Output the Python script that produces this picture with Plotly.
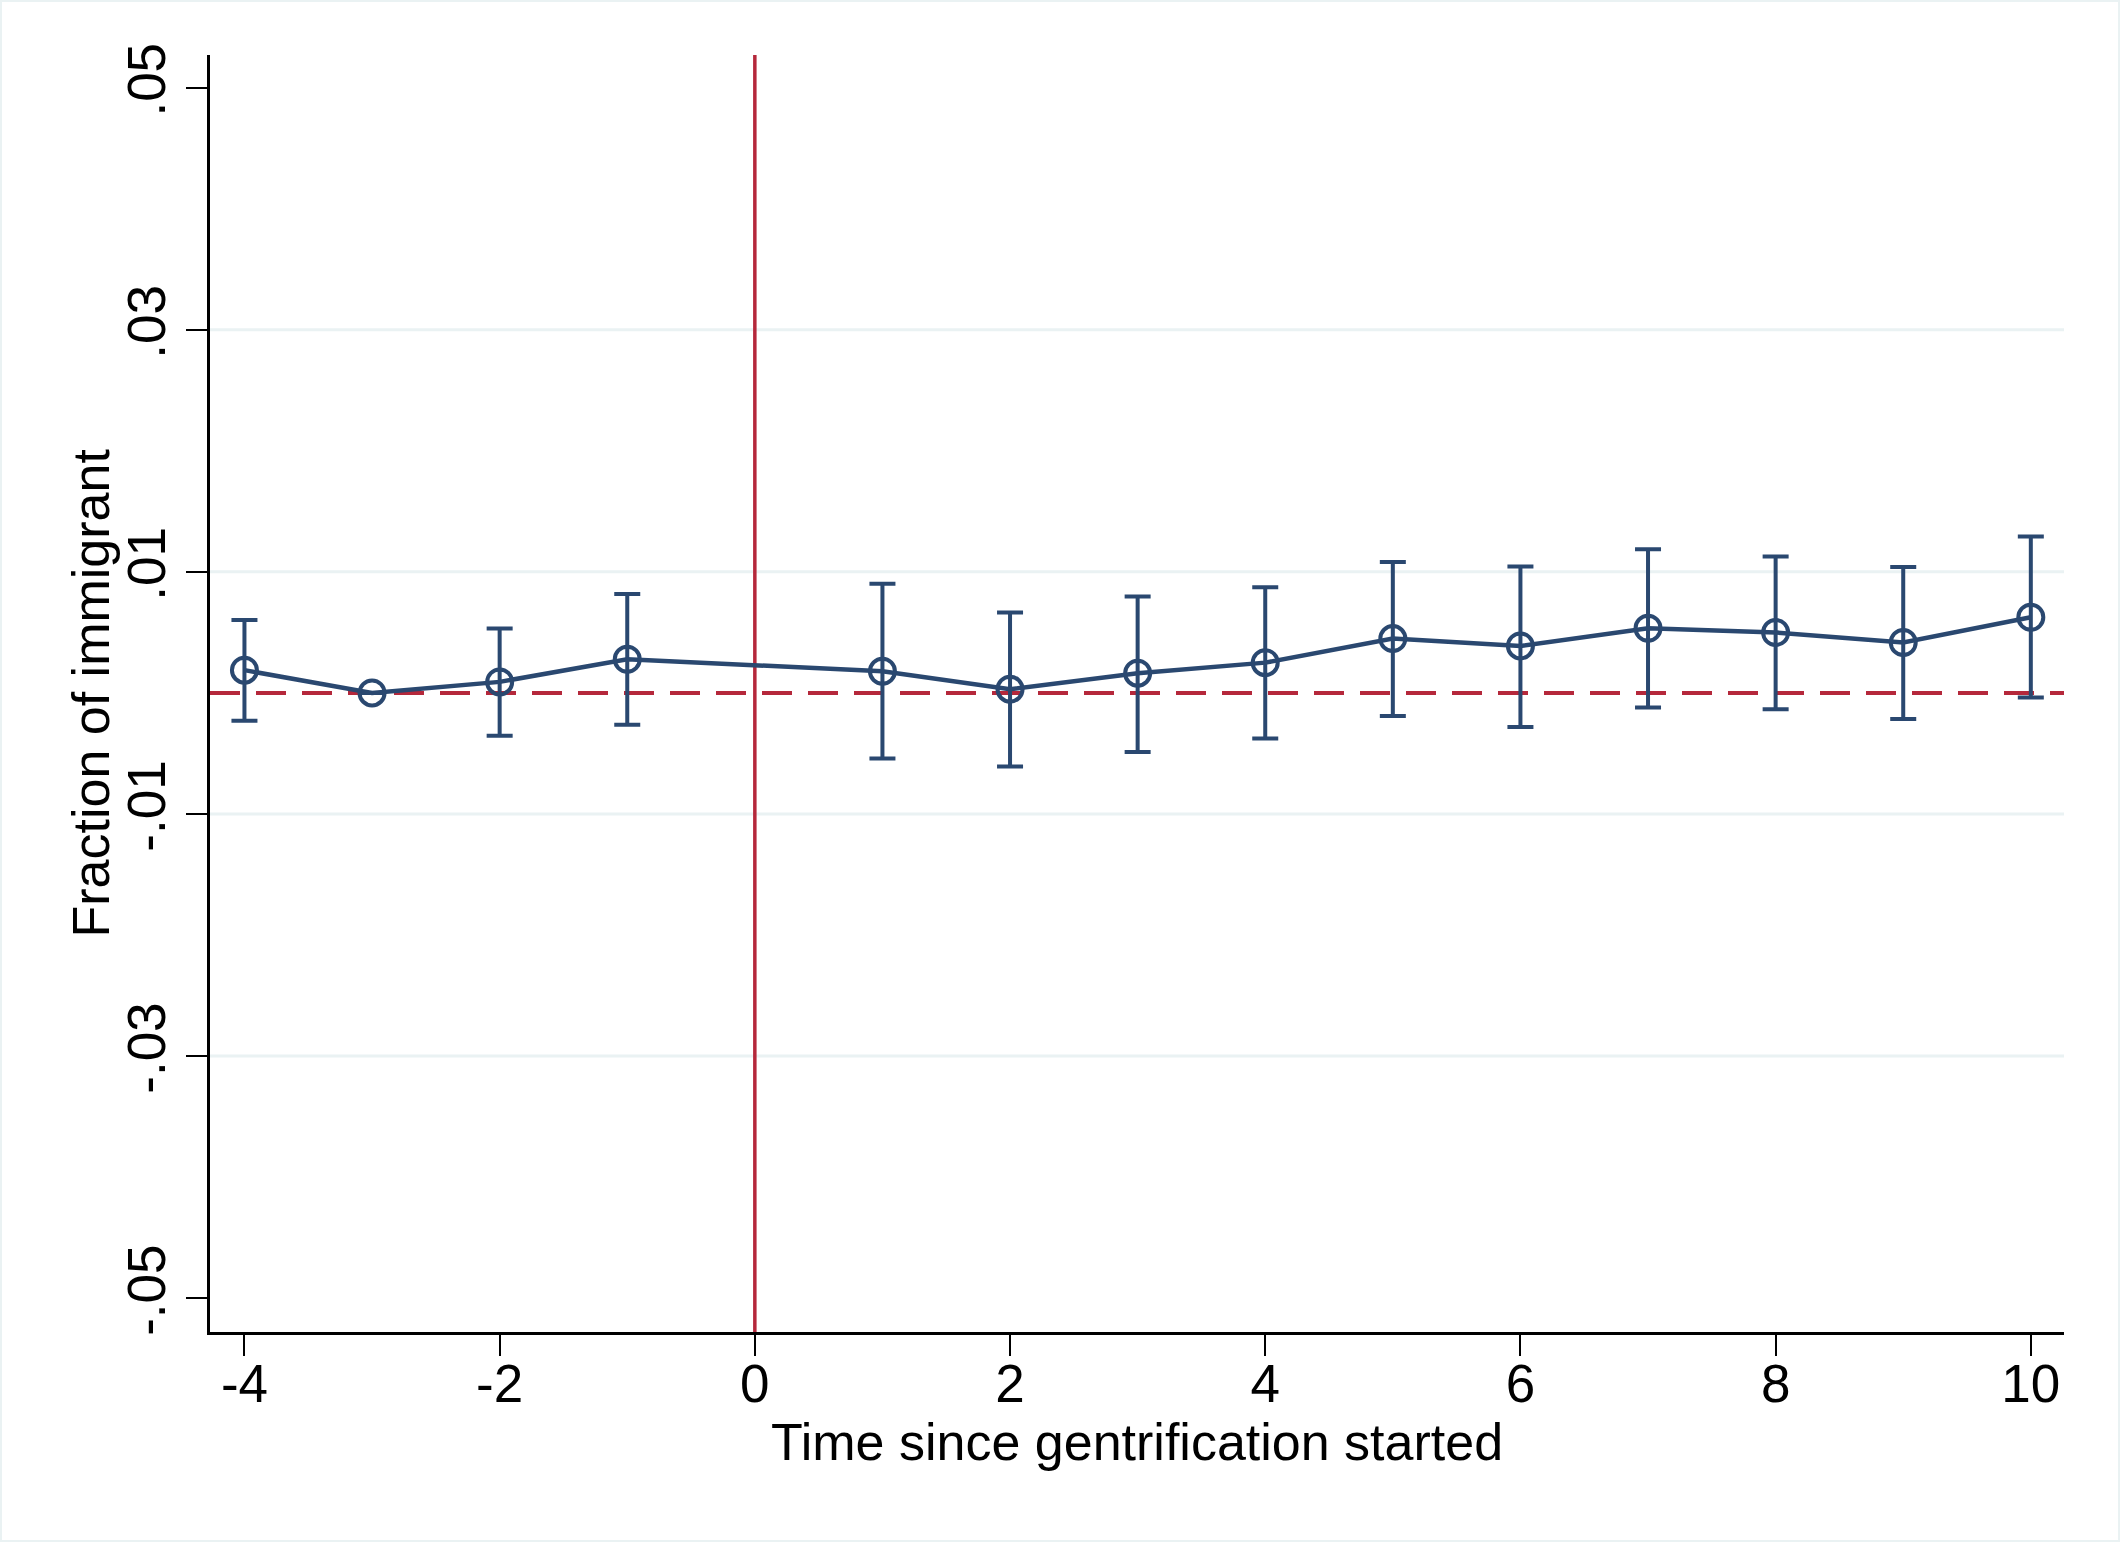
import plotly.graph_objects as go

# ---- data ----
time = [-4, -3, -2, -1, 1, 2, 3, 4, 5, 6, 7, 8, 9, 10]
coef = [0.00188, 0.0, 0.00091, 0.00278, 0.00179, 0.00031, 0.00163,
        0.00250, 0.00449, 0.00388, 0.00534, 0.00499, 0.00416, 0.00625]
ci_hi = [0.00603, None, 0.00532, 0.00818, 0.00901, 0.00664, 0.00796,
         0.00873, 0.01081, 0.01044, 0.01187, 0.01127, 0.01041, 0.01292]
ci_lo = [-0.00231, None, -0.00355, -0.00264, -0.00543, -0.00609, -0.00488,
         -0.00377, -0.00190, -0.00281, -0.00121, -0.00135, -0.00215, -0.00039]

x_ticks = [-4, -2, 0, 2, 4, 6, 8, 10]
x_ticktext = ["-4", "-2", "0", "2", "4", "6", "8", "10"]
y_ticks = [-0.05, -0.03, -0.01, 0.01, 0.03, 0.05]
y_ticktext = ["-.05", "-.03", "-.01", ".01", ".03", ".05"]
y_grid = [-0.03, -0.01, 0.01, 0.03]
event_time = 0
zero_line = 0

x_title = "Time since gentrification started"
y_title = "Fraction of immigrant"

# ---- styles ----
NAVY = "#2A4870"
RED = "#B5283B"
GRID = "#EAF2F3"
FONT = "Liberation Sans, Arial, Helvetica, sans-serif"

W, H = 2120, 1542
ML, MR, MT, MB = 210, 56, 55, 210
pw = W - ML - MR
ph = H - MT - MB

err_plus = [None if h is None else h - c for h, c in zip(ci_hi, coef)]
err_minus = [None if l is None else c - l for l, c in zip(ci_lo, coef)]

fig = go.Figure()

fig.add_trace(go.Scatter(
    x=time, y=coef,
    mode="lines+markers",
    line=dict(color=NAVY, width=4.5),
    marker=dict(symbol="circle-open", size=25, color=NAVY,
                line=dict(color=NAVY, width=4)),
    error_y=dict(type="data", symmetric=False,
                 array=err_plus, arrayminus=err_minus,
                 color=NAVY, thickness=4, width=13),
    showlegend=False,
))

# light frame around the whole graph region
fig.add_shape(type="rect", xref="paper", yref="paper",
              x0=-ML / pw + 1 / pw, x1=1 + MR / pw - 1 / pw,
              y0=-MB / ph + 1 / ph, y1=1 + MT / ph - 1 / ph,
              line=dict(color=GRID, width=2), layer="below")

# horizontal grid lines (drawn first so reference lines sit on top)
for g in y_grid:
    fig.add_hline(y=g, line=dict(color=GRID, width=3), layer="below")

fig.add_hline(y=zero_line, line=dict(color=RED, width=4, dash="30px,16px"),
              layer="below")
fig.add_vline(x=event_time, line=dict(color=RED, width=3.5), layer="below")

fig.add_annotation(text=y_title, textangle=-90,
                   xref="paper", yref="paper",
                   x=(90 - ML) / pw, y=0.5,
                   xanchor="center", yanchor="middle",
                   showarrow=False, font=dict(size=52, color="black"))

fig.update_layout(
    width=W, height=H,
    margin=dict(l=ML, r=MR, t=MT, b=MB, pad=0),
    paper_bgcolor="white", plot_bgcolor="white",
    font=dict(family=FONT, size=53, color="black"),
)

fig.update_xaxes(
    range=[-4.27, 10.26],
    tickvals=x_ticks, ticktext=x_ticktext,
    ticks="outside", ticklen=21, tickwidth=2, tickcolor="black",
    ticklabelstandoff=-18,
    showline=True, linecolor="black", linewidth=3,
    showgrid=False, zeroline=False,
    tickfont=dict(size=53),
    title=dict(text=x_title, font=dict(size=52), standoff=8),
)

fig.update_yaxes(
    range=[-0.0528, 0.0527],
    tickvals=y_ticks, ticktext=y_ticktext,
    tickangle=-90,
    ticks="outside", ticklen=21, tickwidth=2, tickcolor="black",
    showline=True, linecolor="black", linewidth=3,
    showgrid=False, zeroline=False,
    tickfont=dict(size=53),
)

fig.write_html("out.html",
               config={"displayModeBar": False},
               post_script="document.body.style.margin='0';"
                           "document.body.style.padding='0';")
